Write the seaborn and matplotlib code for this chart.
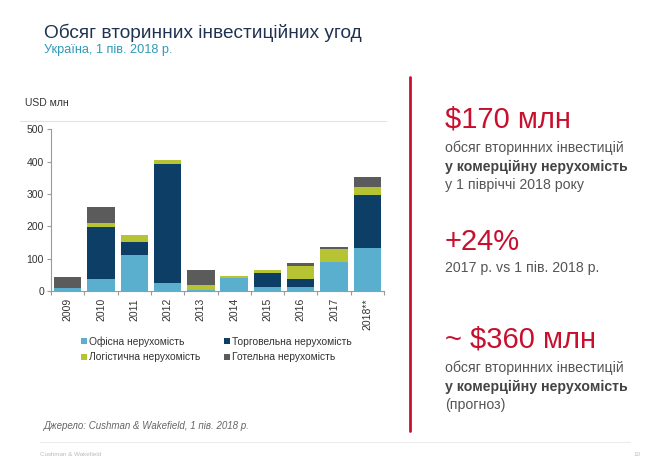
import matplotlib
matplotlib.use("Agg")
import matplotlib.pyplot as plt
import seaborn as sns
import pandas as pd
import numpy as np
from matplotlib.patches import Patch
from matplotlib.lines import Line2D

# ---- data (USD млн) ----
years = ["2009", "2010", "2011", "2012", "2013", "2014", "2015", "2016", "2017", "2018**"]
office = [8, 37, 112, 24, 2, 41, 13, 11, 89, 134]
retail = [0, 160, 41, 368, 0, 0, 42, 25, 0, 164]
logistics = [0, 13, 20, 15, 16, 5, 9, 41, 42, 24]
hotel = [36, 49, 0, 0, 48, 0, 0, 9, 4, 32]

series_names = ["Офісна нерухомість", "Торговельна нерухомість",
                "Логістична нерухомість", "Готельна нерухомість"]
series_values = [office, retail, logistics, hotel]
colors = ["#5AAFCF", "#0D3E66", "#B6C433", "#5B5B5B"]

title = "Обсяг вторинних інвестиційних угод"
subtitle = "Україна, 1 пів. 2018 р."
unit_label = "USD млн"
source = "Джерело: Cushman & Wakefield, 1 пів. 2018 р."

sns.set_theme(style="white")
plt.rcParams["font.family"] = ["Liberation Sans", "DejaVu Sans"]

W, H = 672, 475
fig = plt.figure(figsize=(W / 100, H / 100), dpi=100)
fig.patch.set_facecolor("white")


def fx(x):
    return x / W


def fy(y):
    return 1 - y / H


ax_left, ax_right, ax_top, ax_bottom = 51, 384, 129.5, 291
ax = fig.add_axes([fx(ax_left), fy(ax_bottom), fx(ax_right - ax_left), (ax_bottom - ax_top) / H])

# cumulative stacking, drawn from top series down
cum = np.cumsum(np.array(series_values), axis=0)
for i in range(len(series_names) - 1, -1, -1):
    df = pd.DataFrame({"year": years, "value": cum[i]})
    sns.barplot(data=df, x="year", y="value", order=years, color=colors[i],
                saturation=1, width=0.82, ax=ax, errorbar=None, linewidth=0)

ax.set_xlim(-0.5, len(years) - 0.5)
ax.set_ylim(0, 500)
ax.set_yticks([0, 100, 200, 300, 400, 500])
ax.set_xlabel("")
ax.set_ylabel("")
for s in ["top", "right"]:
    ax.spines[s].set_visible(False)
for s in ["left", "bottom"]:
    ax.spines[s].set_color("#9a9a9a")
    ax.spines[s].set_linewidth(0.8)
ax.tick_params(axis="y", which="major", left=True, length=3, width=0.8, color="#9a9a9a",
               labelsize=7.5, labelcolor="#333333", pad=2)
ax.set_xticks(range(len(years)))
ax.set_xticklabels(years, rotation=90, fontsize=7.5, color="#333333")
ax.tick_params(axis="x", which="major", bottom=False, length=0, pad=5)
ax.set_xticks(np.arange(-0.5, len(years) + 0.5, 1), minor=True)
ax.tick_params(axis="x", which="minor", bottom=True, length=3, width=0.8, color="#9a9a9a")
ax.grid(False)

# legend
handles = [Patch(facecolor=c, edgecolor="none") for c in colors]
order = [0, 2, 1, 3]
fig.legend([handles[i] for i in order], [series_names[i] for i in order],
           loc="upper left", bbox_to_anchor=(fx(72), fy(327)), ncol=2, frameon=False,
           fontsize=7.4, handlelength=0.6, handleheight=0.6, handletextpad=0.15,
           columnspacing=2.3, labelspacing=0.55, labelcolor="#333333")

# header
fig.text(fx(44), fy(33), title, fontsize=13.7, color="#1F3350", va="center", ha="left")
fig.text(fx(44), fy(50), subtitle, fontsize=9.2, color="#2E9AB8", va="center", ha="left")
fig.text(fx(25), fy(103), unit_label, fontsize=7.5, color="#333333", va="center", ha="left")

# thin separators
fig.add_artist(Line2D([fx(20), fx(386)], [fy(121), fy(121)], color="#e3e3e3", lw=0.8))
fig.add_artist(Line2D([fx(40), fx(630)], [fy(442), fy(442)], color="#ececec", lw=0.8))

# red vertical divider
fig.add_artist(Line2D([fx(409.5), fx(409.5)], [fy(77), fy(431)], color="#C8102E", lw=2))

red = "#C8102E"
gray = "#555555"
xr = 445
fig.text(fx(xr), fy(120), "$170 млн", fontsize=21, color=red, va="center", ha="left")
fig.text(fx(xr), fy(148), "обсяг вторинних інвестицій", fontsize=10.2, color=gray, va="center")
fig.text(fx(xr), fy(166.5), "у комерційну нерухомість", fontsize=10.2, color="#444444",
         va="center", fontweight="bold")
fig.text(fx(xr), fy(185), "у 1 півріччі 2018 року", fontsize=10.2, color=gray, va="center")
fig.text(fx(xr), fy(242), "+24%", fontsize=21, color=red, va="center", ha="left")
fig.text(fx(xr), fy(268), "2017 р. vs 1 пів. 2018 р.", fontsize=10.2, color=gray, va="center")
fig.text(fx(xr), fy(340), "~ $360 млн", fontsize=21, color=red, va="center", ha="left")
fig.text(fx(xr), fy(368), "обсяг вторинних інвестицій", fontsize=10.2, color=gray, va="center")
fig.text(fx(xr), fy(386.5), "у комерційну нерухомість", fontsize=10.2, color="#444444",
         va="center", fontweight="bold")
fig.text(fx(xr), fy(405), "(прогноз)", fontsize=10.2, color=gray, va="center")

# footer
fig.text(fx(44), fy(426), source, fontsize=7, color="#666666", style="italic", va="center")
fig.text(fx(40), fy(454), "Cushman & Wakefield", fontsize=4.5, color="#bbbbbb", va="center")
fig.text(fx(633), fy(454), "10", fontsize=4.5, color="#bbbbbb", va="center")

fig.savefig("out.png", dpi=100, facecolor="white")
